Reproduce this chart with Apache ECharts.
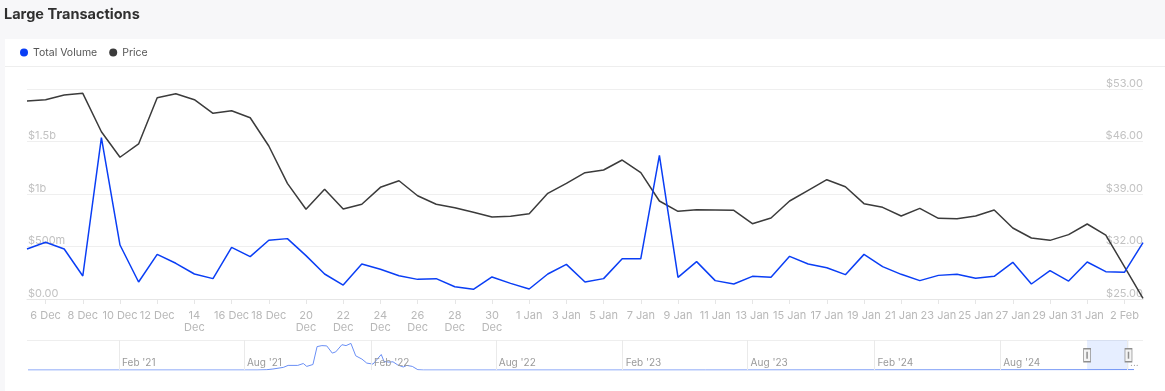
<!DOCTYPE html>
<html>
<head>
<meta charset="utf-8">
<script src="https://cdn.jsdelivr.net/npm/echarts@6/dist/echarts.min.js"></script>
<style>
  html, body { margin: 0; padding: 0; width: 1165px; height: 391px; overflow: hidden; background: #f7f7f9; font-family: Inter, sans-serif; }
  #card { position: absolute; left: 5px; top: 39px; width: 1160px; height: 352px; background: #ffffff; }
  #sep { position: absolute; left: 5px; top: 66px; width: 1160px; height: 1px; background: #eeeeee; }
  #chart { position: absolute; left: 0; top: 0; width: 1165px; height: 391px; }
</style>
</head>
<body>
<div id="card"></div>
<div id="sep"></div>
<div id="chart"></div>
<script>
// ---- data ----
const days = [
  '5 Dec','6 Dec','7 Dec','8 Dec','9 Dec','10 Dec','11 Dec','12 Dec','13 Dec','14 Dec',
  '15 Dec','16 Dec','17 Dec','18 Dec','19 Dec','20 Dec','21 Dec','22 Dec','23 Dec','24 Dec',
  '25 Dec','26 Dec','27 Dec','28 Dec','29 Dec','30 Dec','31 Dec',
  '1 Jan','2 Jan','3 Jan','4 Jan','5 Jan','6 Jan','7 Jan','8 Jan','9 Jan','10 Jan',
  '11 Jan','12 Jan','13 Jan','14 Jan','15 Jan','16 Jan','17 Jan','18 Jan','19 Jan','20 Jan',
  '21 Jan','22 Jan','23 Jan','24 Jan','25 Jan','26 Jan','27 Jan','28 Jan','29 Jan','30 Jan','31 Jan',
  '1 Feb','2 Feb','3 Feb'
];
const wrappedLabels = ['14 Dec','20 Dec','22 Dec','24 Dec','26 Dec','28 Dec','30 Dec'];

// Total Volume, in millions of USD
const totalVolume = [
  476, 540, 476, 219, 1536, 514, 162, 425, 340, 238,
  194, 492, 403, 559, 575, 413, 238, 133, 333, 283,
  222, 187, 194, 117, 92, 210, 149, 95, 238, 330,
  162, 194, 384, 384, 1368, 206, 356, 175, 143, 216,
  206, 406, 333, 298, 232, 425, 308, 235, 175, 225,
  235, 197, 216, 349, 143, 270, 171, 352, 260, 254, 536
];

// Price, USD
const price = [
  51.4, 51.57, 52.2, 52.42, 47.3, 43.9, 45.67, 51.84, 52.37, 51.57,
  49.76, 50.1, 49.17, 45.4, 40.42, 36.96, 39.63, 37.0, 37.63, 39.89,
  40.77, 38.77, 37.63, 37.18, 36.56, 35.93, 36.02, 36.38, 39.09, 40.42,
  41.84, 42.2, 43.53, 41.84, 38.07, 36.69, 36.91, 36.87, 36.82, 35.04,
  35.8, 38.07, 39.49, 40.91, 39.97, 37.71, 37.22, 36.07, 37.09, 35.76,
  35.71, 36.07, 36.87, 34.47, 33.13, 32.82, 33.58, 35.0, 33.53, 29.31, 25.09
];

// Navigator: long-history total volume (USD billions)
const navDates = [
  '2020-09-22','2021-08-20','2021-09-03','2021-09-12','2021-09-27','2021-10-04','2021-10-18',
  '2021-10-26','2021-10-31','2021-11-09','2021-11-15','2021-11-22','2021-11-29','2021-12-07',
  '2021-12-12','2021-12-21','2021-12-27','2022-01-03','2022-01-10','2022-01-19','2022-01-26',
  '2022-02-04','2022-02-16','2022-02-20','2022-02-27','2022-03-05','2022-03-12','2022-03-20',
  '2022-03-25','2022-04-02','2022-04-10','2022-04-18','2023-06-01','2024-12-05','2025-02-11'
];
const navVolume = [
  0, 0, 0.3, 1.0, 2.6, 4.6, 4.6,
  6.5, 3.6, 5.5, 23.4, 24.4, 24.1, 16.9,
  18.1, 25.3, 24.4, 26.6, 14.2, 10.9, 6.9,
  5.9, 15.5, 8.5, 7.9, 8.2, 5.0, 3.0,
  4.6, 3.6, 0.3, 0, 0, 0.3, 0.4
];
const navTickDates = ['2021-02-01','2021-08-01','2022-02-01','2022-08-01','2023-02-01','2023-08-01','2024-02-01','2024-08-01','2025-02-01'];
const navTickLabels = ["Feb '21","Aug '21","Feb '22","Aug '22","Feb '23","Aug '23","Feb '24","Aug '24","Feb '25"];
const navRange = ['2024-12-05', '2025-02-03'];

const leftTicks = { 0: '$0.00', 500: '$500m', 1000: '$1b', 1500: '$1.5b' };

// ---- chart ----
const FONT = 'Inter, "Noto Sans", sans-serif';
const chart = echarts.init(document.getElementById('chart'), null, { renderer: 'canvas' });
const oddIdx = (i) => i % 2 === 1;

const navSeriesData = navDates.map((d, i) => [d, navVolume[i]]);

const navLabelPoints = navTickDates.map((d, i) => ({
  coord: [d, 7.2],
  symbol: 'circle',
  symbolSize: 0,
  label: {
    show: true, position: 'right', distance: 3,
    formatter: navTickLabels[i],
    color: '#9a9a9a', fontSize: 10, fontFamily: FONT,
    width: i === navTickDates.length - 1 ? 13 : undefined,
    overflow: i === navTickDates.length - 1 ? 'truncate' : undefined,
    ellipsis: '...'
  }
}));

const handlePoints = [];
navRange.forEach((d) => {
  handlePoints.push({ coord: [d, 14.8], symbol: 'rect', symbolSize: [7, 13],
    itemStyle: { color: '#f4f4f4', borderColor: '#8f8f8f', borderWidth: 1 }, label: { show: false } });
  handlePoints.push({ coord: [d, 14.8], symbol: 'rect', symbolSize: [1.5, 7],
    itemStyle: { color: '#8f8f8f' }, label: { show: false } });
});

chart.setOption({
  animation: false,
  backgroundColor: 'transparent',
  textStyle: { fontFamily: FONT },
  title: {
    text: 'Large Transactions',
    left: 4, top: 7, padding: 0,
    textStyle: { fontSize: 14.5, fontWeight: 700, color: '#303030', fontFamily: FONT }
  },
  legend: {
    data: ['Total Volume', 'Price'],
    left: 15, top: 42,
    icon: 'circle', itemWidth: 8, itemHeight: 8, itemGap: 12,
    textStyle: { fontSize: 10.5, color: '#555555', fontFamily: FONT }
  },
  graphic: [
    { type: 'line', silent: true, shape: { x1: 27, y1: 340.5, x2: 1143, y2: 340.5 },
      style: { stroke: '#eeeeee', lineWidth: 1 } }
  ],
  grid: [
    { left: 27, right: 22, top: 89, bottom: 92 },
    { left: 28, right: 31, top: 340, height: 30 }
  ],
  xAxis: [
    {
      type: 'category', gridIndex: 0, data: days, boundaryGap: false,
      axisLine: { lineStyle: { color: '#e6e6e6' } },
      axisTick: { show: true, interval: oddIdx, length: 5, lineStyle: { color: '#e6e6e6' } },
      axisLabel: {
        interval: oddIdx, color: '#b8b8b8', fontSize: 11, lineHeight: 12, margin: 11,
        fontFamily: FONT,
        formatter: (v) => wrappedLabels.includes(v) ? v.replace(' ', '\n') : v
      },
      splitLine: { show: false }
    },
    {
      type: 'time', gridIndex: 1, min: '2020-09-22', max: '2025-02-11',
      show: false
    }
  ],
  yAxis: [
    {
      type: 'value', gridIndex: 0, position: 'left', min: 0, max: 2000, interval: 500,
      axisLine: { show: false }, axisTick: { show: false },
      axisLabel: {
        inside: true, margin: 1, verticalAlign: 'bottom', showMaxLabel: false,
        color: '#c2c2c2', fontSize: 11, fontFamily: FONT,
        formatter: (v) => leftTicks[v] !== undefined ? leftTicks[v] : ''
      },
      splitLine: { show: true, lineStyle: { color: '#efefef', width: 1 } }
    },
    {
      type: 'value', gridIndex: 0, position: 'right', min: 25, max: 53, interval: 7,
      axisLine: { show: false }, axisTick: { show: false },
      axisLabel: {
        inside: true, margin: 0, verticalAlign: 'bottom',
        color: '#c2c2c2', fontSize: 11, fontFamily: FONT,
        formatter: (v) => '$' + v.toFixed(2)
      },
      splitLine: { show: false }
    },
    { type: 'value', gridIndex: 1, min: 0, max: 30, show: false }
  ],
  series: [
    {
      name: 'Price', type: 'line', xAxisIndex: 0, yAxisIndex: 1, data: price,
      symbol: 'none', z: 2,
      lineStyle: { color: '#3b3b3b', width: 1.5 }, itemStyle: { color: '#3b3b3b' }
    },
    {
      name: 'Total Volume', type: 'line', xAxisIndex: 0, yAxisIndex: 0, data: totalVolume,
      symbol: 'none', z: 3,
      lineStyle: { color: '#0a3ef5', width: 1.5 }, itemStyle: { color: '#0a3ef5' }
    },
    {
      name: 'nav', type: 'line', xAxisIndex: 1, yAxisIndex: 2, data: navSeriesData,
      symbol: 'none', silent: true, z: 3,
      lineStyle: { color: '#6a8ff5', width: 1 }, itemStyle: { color: '#6a8ff5' },
      markLine: {
        silent: true, symbol: 'none', label: { show: false },
        lineStyle: { color: '#eaeaea', width: 1, type: 'solid' },
        data: navTickDates.map((d) => ({ xAxis: d }))
      },
      markArea: {
        silent: true,
        itemStyle: { color: 'rgba(51,119,255,0.12)' },
        data: [[{ xAxis: navRange[0] }, { xAxis: navRange[1] }]]
      },
      markPoint: {
        silent: true,
        data: navLabelPoints.concat(handlePoints)
      }
    }
  ]
});
</script>
</body>
</html>
